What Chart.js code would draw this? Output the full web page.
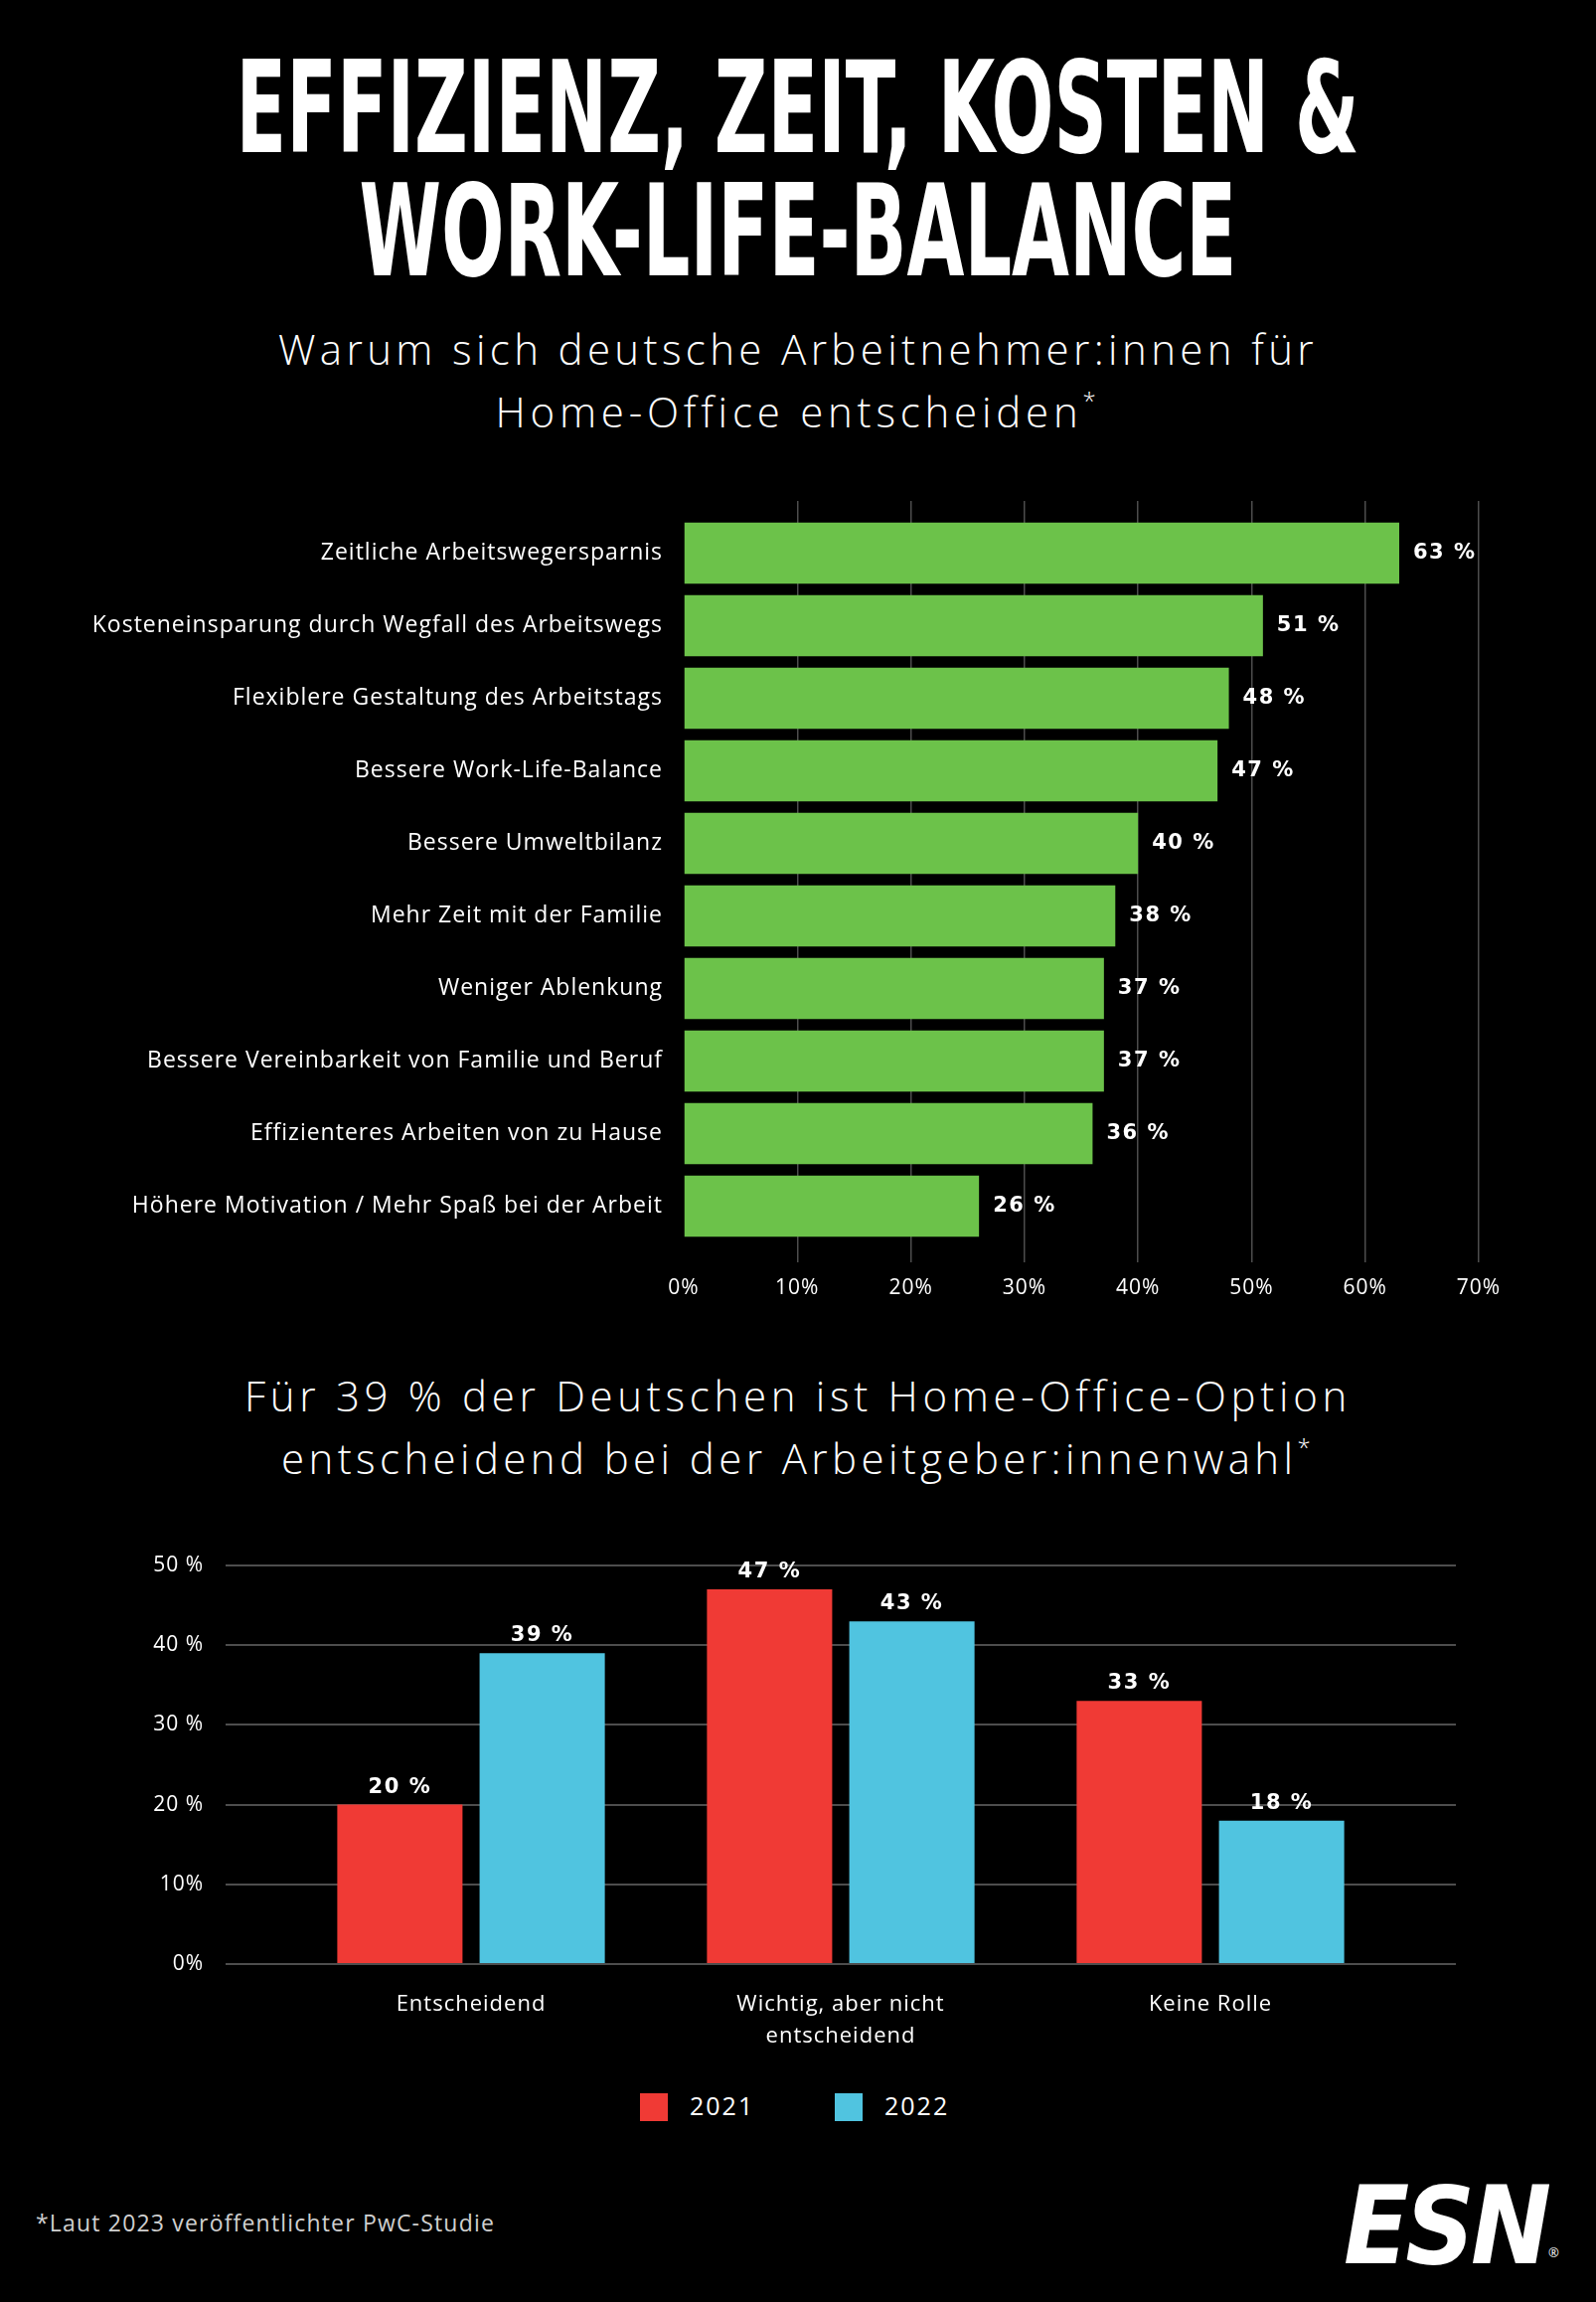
<!DOCTYPE html>
<html lang="de">
<head>
<meta charset="utf-8">
<title>Effizienz, Zeit, Kosten & Work-Life-Balance</title>
<script src="https://cdn.jsdelivr.net/npm/chart.js@4.4.1/dist/chart.umd.min.js"></script>
<style>
  html, body { margin: 0; padding: 0; background: #000; }
  body { width: 1606px; height: 2316px; position: relative; overflow: hidden; color: #fff; font-family: "Open Sans", "Noto Sans", sans-serif; }
  .line { position: absolute; left: -1197px; width: 4000px; text-align: center; white-space: nowrap; line-height: 1; }
  .line span { display: inline-block; }
  .title { font-family: "Liberation Sans Narrow", "DejaVu Sans Condensed", "Roboto", sans-serif; font-weight: bold; font-size: 128px; }
  .title span { transform-origin: center; }
  .sub { font-size: 42px; font-weight: 300; }
  .sub sup { font-size: 24px; vertical-align: 18px; line-height: 0; }
  canvas { position: absolute; left: 0; }
  .legend { position: absolute; top: 2106px; height: 28px; }
  .legend i { position: absolute; top: 0; width: 28px; height: 28px; }
  .legend b { position: absolute; top: 0; font-weight: 400; font-size: 25px; line-height: 1; letter-spacing: 2px; white-space: nowrap; }
  .footer { position: absolute; left: 36px; top: 2225px; font-size: 23px; line-height: 1; color: #d0d0d0; white-space: nowrap; }
  .logo { position: absolute; left: 1352px; top: 2186px; font-family: "DejaVu Sans Condensed", "Liberation Sans Narrow", sans-serif; font-weight: bold; font-style: italic; font-size: 108px; line-height: 1; letter-spacing: -4px; white-space: nowrap; transform-origin: left top; }
  .reg { position: absolute; left: 1558px; top: 2260px; font-size: 13px; line-height: 1; }
</style>
</head>
<body>

<div class="line title" style="top:45px"><span id="t1">EFFIZIENZ, ZEIT, KOSTEN &amp;</span></div>
<div class="line title" style="top:169px"><span id="t2">WORK-LIFE-BALANCE</span></div>

<div class="line sub" style="top:330px"><span id="s1">Warum sich deutsche Arbeitnehmer:innen für</span></div>
<div class="line sub" style="top:393px"><span id="s2">Home-Office entscheiden<sup>*</sup></span></div>

<canvas id="gruende" width="1606" height="830" style="top:480px"></canvas>

<div class="line sub" style="top:1383px"><span id="s3">Für 39 % der Deutschen ist Home-Office-Option</span></div>
<div class="line sub" style="top:1446px"><span id="s4">entscheidend bei der Arbeitgeber:innenwahl<sup>*</sup></span></div>

<canvas id="arbeitgeber" width="1606" height="556" style="top:1520px"></canvas>

<div class="legend" id="legende"></div>

<div class="footer"><span id="fn">*Laut 2023 veröffentlichter PwC-Studie</span></div>
<div class="logo" id="logo">ESN</div>
<div class="reg">®</div>

<script>
// Gründe für Home-Office (Anteil in %)
const gruende = [
  "Zeitliche Arbeitswegersparnis",
  "Kosteneinsparung durch Wegfall des Arbeitswegs",
  "Flexiblere Gestaltung des Arbeitstags",
  "Bessere Work-Life-Balance",
  "Bessere Umweltbilanz",
  "Mehr Zeit mit der Familie",
  "Weniger Ablenkung",
  "Bessere Vereinbarkeit von Familie und Beruf",
  "Effizienteres Arbeiten von zu Hause",
  "Höhere Motivation / Mehr Spaß bei der Arbeit"
];
const gruendeWerte = [63, 51, 48, 47, 40, 38, 37, 37, 36, 26];
const gruendeTicks = ["0%", "10%", "20%", "30%", "40%", "50%", "60%", "70%"];

// Home-Office-Option bei der Arbeitgeberwahl
const bedeutung = ["Entscheidend", ["Wichtig, aber nicht", "entscheidend"], "Keine Rolle"];
const jahre = ["2021", "2022"];
const werte2021 = [20, 47, 33];
const werte2022 = [39, 43, 18];
const bedeutungTicks = ["0%", "10%", "20 %", "30 %", "40 %", "50 %"];

const GRUEN = '#6cc24a';
const ROT = '#f03a35';
const BLAU = '#50c4e0';
const GRID = '#4d4d4d';
const FONT = '"Open Sans", "Noto Sans", sans-serif';

// Überschriften auf die Breite der Vorlage bringen
function stauchen(id, breite) {
  const el = document.getElementById(id);
  const w = el.getBoundingClientRect().width;
  el.style.transform = 'scaleX(' + (breite / w) + ')';
}
function sperren(id, breite) {
  const el = document.getElementById(id);
  const w = el.getBoundingClientRect().width;
  const n = el.textContent.length;
  el.style.letterSpacing = ((breite - w) / n) + 'px';
}
stauchen('t1', 1130);
stauchen('t2', 883);
sperren('s1', 1046);
sperren('s2', 609);
sperren('s3', 1114);
sperren('s4', 1040);
sperren('fn', 462);
(function () {
  const logo = document.getElementById('logo');
  const w = logo.getBoundingClientRect().width;
  logo.style.transform = 'scaleX(' + (205 / w) + ')';
})();

// Legende
const legende = document.getElementById('legende');
[[644, ROT], [840, BLAU]].forEach((p, i) => {
  const box = document.createElement('i');
  box.style.left = p[0] + 'px';
  box.style.background = p[1];
  const txt = document.createElement('b');
  txt.style.left = (p[0] + 50) + 'px';
  txt.textContent = jahre[i];
  legende.appendChild(box);
  legende.appendChild(txt);
});

// etwas breitere Schrift in den Diagrammen (die Vorlage nutzt eine breite Grotesk)
const sperrung = {
  id: 'sperrung',
  beforeDraw(chart) { chart.ctx.letterSpacing = '1px'; }
};

// Werte an die Balken schreiben
const wertLabels = {
  id: 'wertLabels',
  afterDatasetsDraw(chart) {
    const ctx = chart.ctx;
    const horizontal = chart.options.indexAxis === 'y';
    ctx.save();
    ctx.fillStyle = '#fff';
    ctx.font = 'bold 21px "DejaVu Sans", sans-serif';
    ctx.letterSpacing = '1.5px';
    chart.data.datasets.forEach((ds, di) => {
      chart.getDatasetMeta(di).data.forEach((bar, i) => {
        const txt = ds.data[i] + ' %';
        if (horizontal) {
          ctx.textAlign = 'left';
          ctx.textBaseline = 'middle';
          ctx.fillText(txt, bar.x + 14, bar.y);
        } else {
          ctx.textAlign = 'center';
          ctx.textBaseline = 'alphabetic';
          ctx.fillText(txt, bar.x, bar.y - 12);
        }
      });
    });
    ctx.restore();
  }
};

const gridFarbe = c => (c.tick && c.tick.value === 0) ? 'rgba(0,0,0,0)' : GRID;

new Chart(document.getElementById('gruende'), {
  type: 'bar',
  data: {
    labels: gruende,
    datasets: [{
      data: gruendeWerte,
      backgroundColor: GRUEN,
      borderWidth: 0,
      barPercentage: 0.84,
      categoryPercentage: 1
    }]
  },
  options: {
    indexAxis: 'y',
    responsive: false,
    animation: false,
    layout: { padding: { top: 24, right: 118, left: 0, bottom: 0 } },
    plugins: { legend: { display: false }, tooltip: { enabled: false } },
    scales: {
      x: {
        position: 'bottom',
        min: 0, max: 70,
        ticks: { stepSize: 10, color: '#fff', padding: 13, font: { family: FONT, size: 21 },
          callback: (v, i) => gruendeTicks[i] },
        grid: { color: gridFarbe, lineWidth: 1.5, tickLength: 20 },
        border: { display: false },
        afterFit: s => { s.height = 60; }
      },
      x2: {
        position: 'top',
        min: 0, max: 70,
        ticks: { display: false, stepSize: 10 },
        grid: { drawOnChartArea: false, color: gridFarbe, lineWidth: 1.5, tickLength: 16 },
        border: { display: false }
      },
      y: {
        ticks: { color: '#fff', padding: 21, font: { family: FONT, size: 23 } },
        grid: { display: false, drawTicks: false },
        border: { display: false },
        afterFit: s => { s.width = 688; }
      }
    }
  },
  plugins: [sperrung, wertLabels]
});

new Chart(document.getElementById('arbeitgeber'), {
  type: 'bar',
  data: {
    labels: bedeutung,
    datasets: [
      { label: jahre[0], data: werte2021, backgroundColor: ROT, borderWidth: 0, barPercentage: 0.88, categoryPercentage: 0.77 },
      { label: jahre[1], data: werte2022, backgroundColor: BLAU, borderWidth: 0, barPercentage: 0.88, categoryPercentage: 0.77 }
    ]
  },
  options: {
    responsive: false,
    animation: false,
    layout: { padding: { top: 55, right: 141, left: 0, bottom: 0 } },
    plugins: { legend: { display: false }, tooltip: { enabled: false } },
    scales: {
      x: {
        ticks: { color: '#fff', padding: 25, font: { family: FONT, size: 22, lineHeight: 1.45 } },
        grid: { display: false, drawTicks: false },
        border: { display: false },
        afterFit: s => { s.height = 100; }
      },
      y: {
        min: 0, max: 50,
        ticks: { stepSize: 10, color: '#fff', padding: 22, font: { family: FONT, size: 21 },
          callback: (v, i) => bedeutungTicks[i] },
        grid: { color: GRID, lineWidth: 2, tickLength: 61 },
        border: { display: false },
        afterFit: s => { s.width = 288; }
      },
      y2: {
        position: 'right',
        min: 0, max: 50,
        ticks: { display: false, stepSize: 10 },
        grid: { drawOnChartArea: false, color: GRID, lineWidth: 2, tickLength: 61 },
        border: { display: false },
        afterFit: s => { s.width = 61; }
      }
    }
  },
  plugins: [sperrung, wertLabels]
});
</script>
</body>
</html>
